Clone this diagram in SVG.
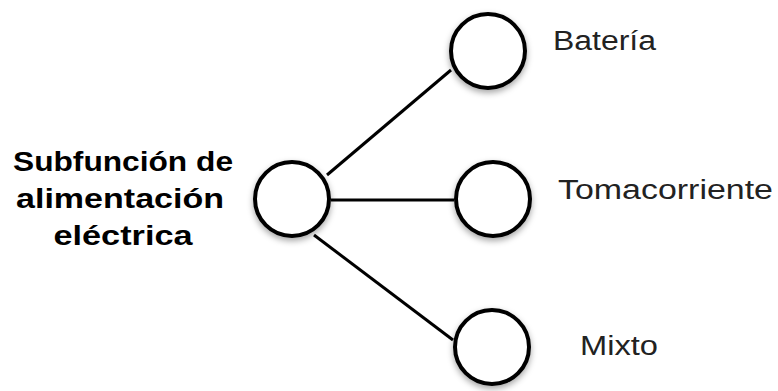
<svg xmlns="http://www.w3.org/2000/svg" width="778" height="391" viewBox="0 0 778 391">
<defs>
<filter id="sh" x="-30%" y="-30%" width="160%" height="170%">
<feDropShadow dx="0" dy="3" stdDeviation="3" flood-color="#000" flood-opacity="0.35"/>
</filter>
<style>
.node{fill:#fff;stroke:#000;stroke-width:4;filter:url(#sh)}
.edge{stroke:#000;stroke-width:3;fill:none}
.lbl{font-family:"Liberation Sans",Arial,sans-serif;font-size:27px;fill:#222}
.title{font-family:"Liberation Sans",Arial,sans-serif;font-size:27px;font-weight:bold;fill:#000;text-anchor:middle}
</style>
</defs>
<rect width="778" height="391" fill="#fff"/>
<g id="connectors">
<line class="edge" x1="327" y1="175" x2="451" y2="70"/>
<line class="edge" x1="331" y1="200" x2="454" y2="200"/>
<line class="edge" x1="314" y1="235" x2="453" y2="340"/>
</g>
<g id="root">
<circle class="node" cx="292" cy="199" r="37"/>
<text class="title" x="123" y="171" textLength="220" lengthAdjust="spacingAndGlyphs">Subfunción de</text>
<text class="title" x="120" y="208" textLength="208" lengthAdjust="spacingAndGlyphs">alimentación</text>
<text class="title" x="123" y="245" textLength="139" lengthAdjust="spacingAndGlyphs">eléctrica</text>
</g>
<g id="bateria">
<circle class="node" cx="488" cy="51" r="37"/>
<text class="lbl" x="553" y="50" textLength="103" lengthAdjust="spacingAndGlyphs">Batería</text>
</g>
<g id="tomacorriente">
<circle class="node" cx="493" cy="199" r="37"/>
<text class="lbl" x="558" y="199" textLength="215" lengthAdjust="spacingAndGlyphs">Tomacorriente</text>
</g>
<g id="mixto">
<circle class="node" cx="492" cy="347" r="37"/>
<text class="lbl" x="580" y="355" textLength="78" lengthAdjust="spacingAndGlyphs">Mixto</text>
</g>
</svg>
